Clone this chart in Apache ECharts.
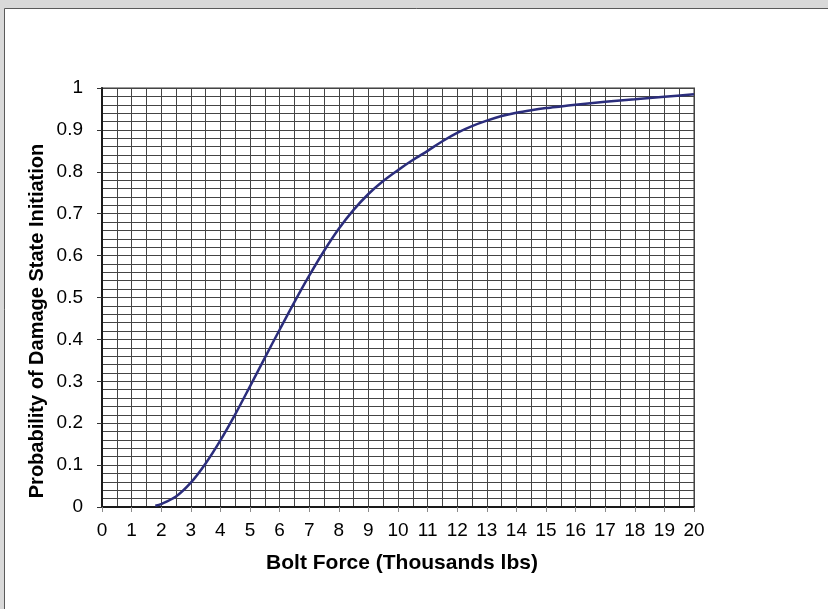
<!DOCTYPE html>
<html>
<head>
<meta charset="utf-8">
<script src="https://cdn.jsdelivr.net/npm/echarts@6/dist/echarts.min.js"></script>
<style>
  html, body { margin: 0; padding: 0; background: #d9d9d9; }
  #chart { width: 828px; height: 609px; }
</style>
</head>
<body>
<div id="chart"></div>
<script>
// Bolt force (thousands of lbs) and probability of damage state initiation
const boltForce = [1.8, 2, 2.5, 3, 3.5, 4, 4.5, 5, 5.5, 6, 6.5, 7, 7.5, 8, 8.5, 9, 9.5, 10,
  10.5, 11, 11.5, 12, 12.5, 13, 13.5, 14, 14.5, 15, 15.5, 16, 17, 18, 19, 20];
const probability = [0.003, 0.007, 0.025, 0.058, 0.104, 0.159, 0.221, 0.288, 0.356, 0.423,
  0.489, 0.552, 0.611, 0.664, 0.709, 0.747, 0.778, 0.804, 0.828, 0.850, 0.873, 0.893,
  0.909, 0.922, 0.933, 0.941, 0.947, 0.952, 0.956, 0.960, 0.967, 0.973, 0.979, 0.985];

const xTitle = 'Bolt Force (Thousands lbs)';
const yTitle = 'Probability of Damage State Initiation';

const FONT = '"Liberation Sans", Arial, sans-serif';
const GRID_COLOR = '#444';
const chart = echarts.init(document.getElementById('chart'), null, { renderer: 'canvas' });

chart.setOption({
  backgroundColor: '#d9d9d9',
  animation: false,
  graphic: [
    {
      // white chart panel with its dark top/left edge
      type: 'rect', z: -10, silent: true,
      shape: { x: 4.5, y: 8.5, width: 840, height: 620 },
      style: { fill: '#ffffff', stroke: '#5a5a5a', lineWidth: 1 }
    },
    {
      type: 'text', silent: true,
      x: 402, y: 563,
      style: {
        text: xTitle, font: 'bold 21px ' + FONT, fill: '#000',
        textAlign: 'center', textVerticalAlign: 'middle'
      }
    },
    {
      type: 'text', silent: true,
      rotation: Math.PI / 2,
      x: 37, y: 321,
      style: {
        text: yTitle, font: 'bold 20px ' + FONT, fill: '#000',
        textAlign: 'center', textVerticalAlign: 'middle'
      }
    }
  ],
  grid: {
    left: 102, right: 134, top: 88, bottom: 102,
    show: true, borderColor: '#9a9a9a', borderWidth: 2, backgroundColor: 'transparent'
  },
  xAxis: {
    type: 'value', min: 0, max: 20, interval: 1,
    axisLine: { show: true, onZero: false, lineStyle: { color: '#1a1a1a', width: 2 } },
    axisTick: { show: true, length: 5, lineStyle: { color: '#8a8a8a', width: 1 } },
    axisLabel: { color: '#000', fontFamily: FONT, fontSize: 19, margin: 14 },
    splitLine: { show: true, lineStyle: { color: GRID_COLOR, width: 1 } },
    minorTick: { show: false, splitNumber: 2 },
    minorSplitLine: { show: true, lineStyle: { color: GRID_COLOR, width: 1 } }
  },
  yAxis: {
    type: 'value', min: 0, max: 1, interval: 0.1,
    axisLine: { show: true, lineStyle: { color: '#1a1a1a', width: 2 } },
    axisTick: { show: true, length: 5, lineStyle: { color: '#333', width: 1 } },
    axisLabel: { color: '#000', fontFamily: FONT, fontSize: 19, margin: 19 },
    splitLine: { show: true, lineStyle: { color: GRID_COLOR, width: 1 } },
    minorTick: { show: false, splitNumber: 5 },
    minorSplitLine: { show: true, lineStyle: { color: GRID_COLOR, width: 1 } }
  },
  series: [{
    type: 'line',
    data: boltForce.map((x, i) => [x, probability[i]]),
    smooth: 0.3,
    showSymbol: false,
    lineStyle: { color: '#2b2d7c', width: 2.5 },
    z: 5
  }]
});
</script>
</body>
</html>
